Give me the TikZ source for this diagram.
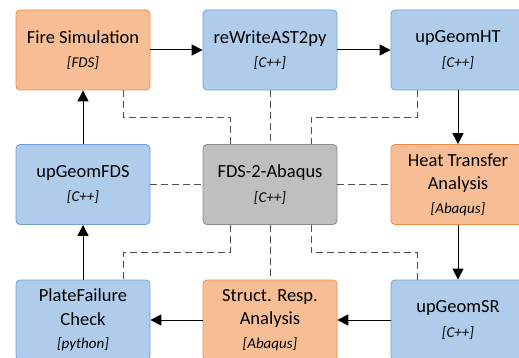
\documentclass[tikz,border=0pt]{standalone}
\usepackage{fontspec}
\setmainfont{Carlito}
\usetikzlibrary{arrows.meta}

\definecolor{codefill}{HTML}{AFCDEA}
\definecolor{codeline}{HTML}{6FA0D6}
\definecolor{solvefill}{HTML}{F7BE96}
\definecolor{solveline}{HTML}{EE8A45}
\definecolor{hubfill}{HTML}{BFBFBF}
\definecolor{hubline}{HTML}{8C8C8C}
\definecolor{linkgray}{HTML}{505050}

\tikzset{
  box/.style={draw, rounded corners=4pt, line width=0.8pt, minimum width=134pt,
    minimum height=80pt, inner sep=0pt, align=center, font=\fontsize{18.5}{23.5}\selectfont},
  codebox/.style={box, fill=codefill, draw=codeline},
  solvebox/.style={box, fill=solvefill, draw=solveline},
  hubbox/.style={box, fill=hubfill, draw=hubline},
  flow/.style={-{Triangle[length=11pt,width=11pt]}, line width=1pt},
  link/.style={draw=linkgray, line width=0.9pt, dash pattern=on 7pt off 4pt}
}
\newcommand{\tool}[1]{{\fontsize{15}{17}\selectfont\itshape [#1]}}

\begin{document}
\begin{tikzpicture}[x=1pt,y=-1pt]
\useasboundingbox (0,0) rectangle (519,358);
% top row
\node[solvebox] (firesim) at (83,50) {Fire Simulation\\[1pt]\tool{FDS}};
\node[codebox] (rewrite) at (270,50) {reWriteAST2py\\[1pt]\tool{C++}};
\node[codebox] (upht) at (458,50) {upGeomHT\\[1pt]\tool{C++}};
% middle row
\node[codebox] (upfds) at (83,184.5) {upGeomFDS\\[1pt]\tool{C++}};
\node[hubbox] (fds) at (270,184.5) {FDS-2-Abaqus\\[1pt]\tool{C++}};
\node[solvebox] (heat) at (458,184.5) {Heat Transfer\\Analysis\\\tool{Abaqus}};
% bottom row
\node[codebox] (plate) at (83,320) {PlateFailure\\Check\\\tool{python}};
\node[solvebox] (struct) at (270,320) {Struct. Resp.\\Analysis\\\tool{Abaqus}};
\node[codebox] (upsr) at (458,320) {upGeomSR\\[1pt]\tool{C++}};

% work flow
\draw[flow] (firesim) -- (rewrite);
\draw[flow] (rewrite) -- (upht);
\draw[flow] (upht) -- (heat);
\draw[flow] (heat) -- (upsr);
\draw[flow] (upsr) -- (struct);
\draw[flow] (struct) -- (plate);
\draw[flow] (plate) -- (upfds);
\draw[flow] (upfds) -- (firesim);

% links to the hub
\draw[link] ([xshift=40pt]firesim.south) -- ++(0,27) -| ([xshift=-40pt]fds.north);
\draw[link] (rewrite) -- (fds);
\draw[link] ([xshift=-41pt]upht.south) -- ++(0,27) -| ([xshift=41pt]fds.north);
\draw[link] (upfds) -- (fds);
\draw[link] (fds) -- (heat);
\draw[link] ([xshift=-40pt]fds.south) -- ++(0,28) -| ([xshift=40pt]plate.north);
\draw[link] (fds) -- (struct);
\draw[link] ([xshift=41pt]fds.south) -- ++(0,28) -| ([xshift=-41pt]upsr.north);
\end{tikzpicture}
\end{document}
